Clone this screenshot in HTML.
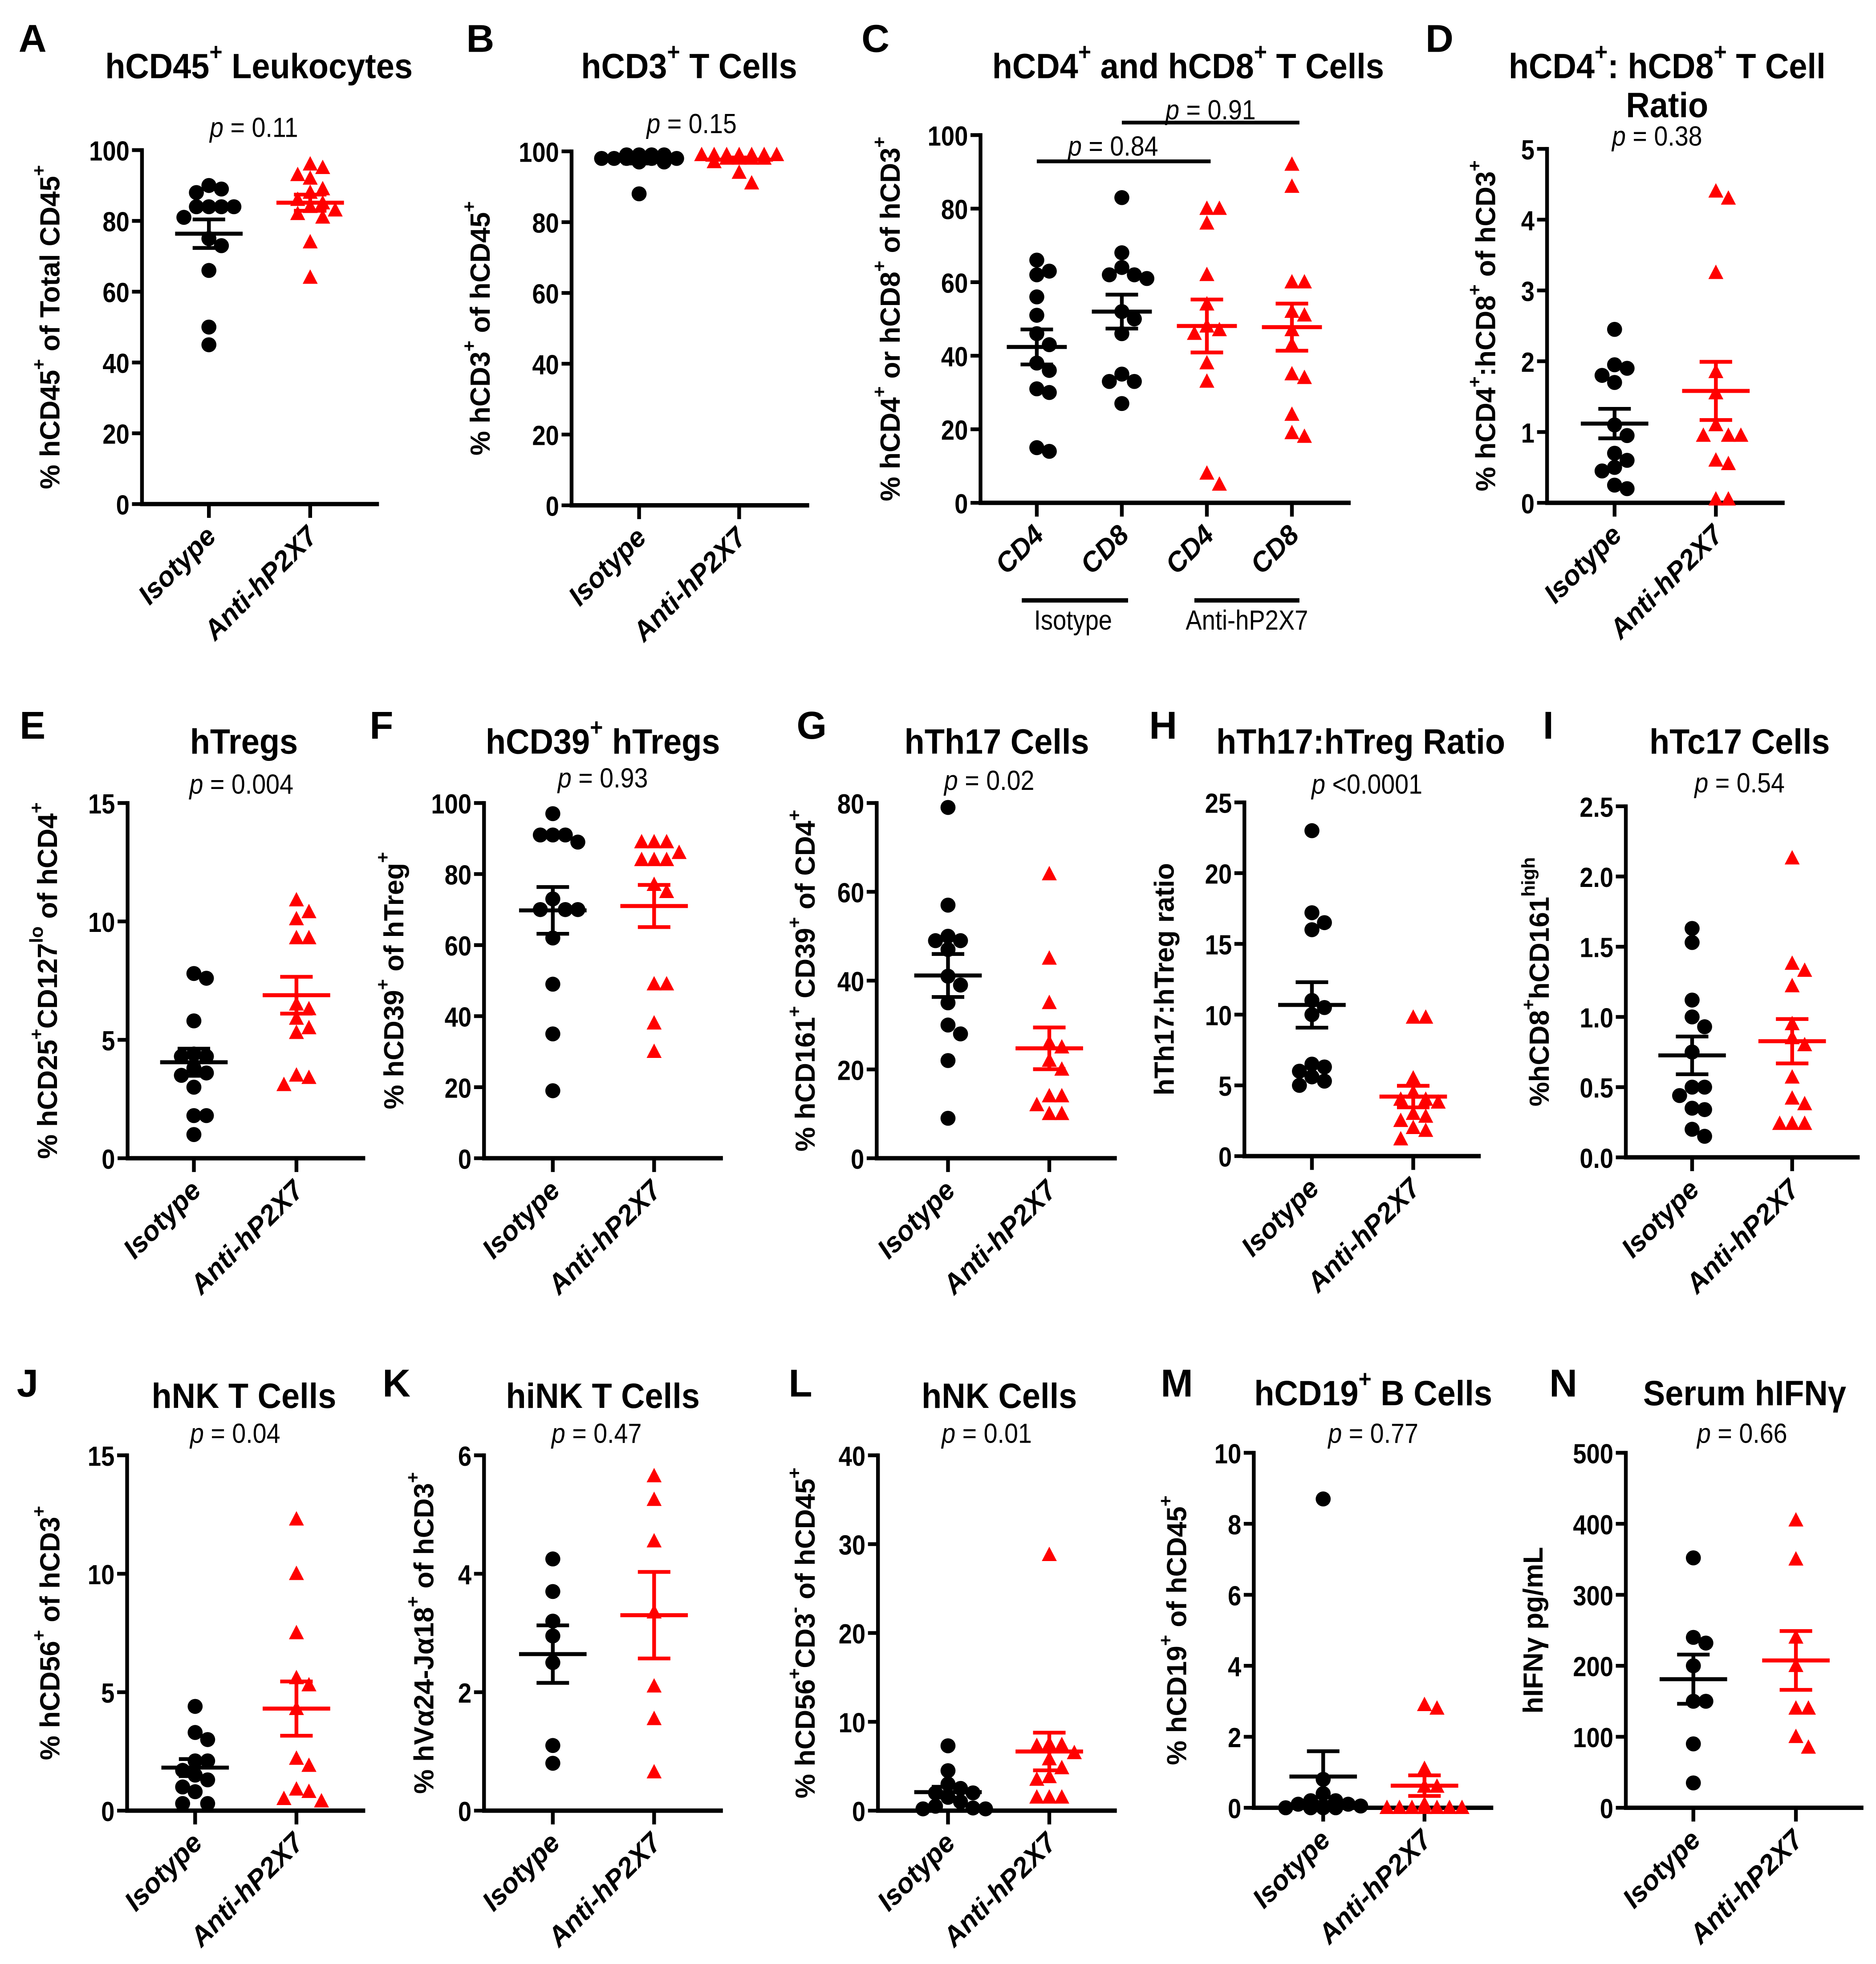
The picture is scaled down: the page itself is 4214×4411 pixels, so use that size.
<!DOCTYPE html>
<html><head><meta charset="utf-8"><style>
html,body{margin:0;padding:0;background:#fff;}
svg{display:block;}
</style></head><body>
<svg id="fig" xmlns="http://www.w3.org/2000/svg" width="4214" height="4411" viewBox="0 0 1500 1570.2"></svg>
<script>
// ---- data ----
const groupNames = ['Isotype','Anti-hP2X7'];
const isoA=[90,89,88,84,84,84,84,81,75,73,66,50,45];
const antiA=[96,95,93,92,89,88,86,85,84,83,82,81,74,64];
const isoB=[99,99,99,99,98,98,98,98,98,98,97,97,88];
const antiB=[99,99,99,99,99,99,99,98,98,98,98,97,94,91];
const isoCD4C=[66,63,62,56,51,46,43,38,36,31,30,15,14];
const isoCD8C=[83,68,64,62,62,61,52,50,46,35,33,33,27];
const antiCD4C=[80,80,76,62,54,48,47,46,38,33,8,5];
const antiCD8C=[92,86,60,60,52,51,47,43,35,34,24,19,18];
const isoD=[2.45,1.95,1.9,1.8,1.7,1.1,0.95,0.7,0.6,0.5,0.45,0.25,0.2];
const antiD=[4.4,4.3,3.25,1.85,1.55,1.1,0.95,0.95,0.95,0.6,0.55,0.05,0.05];
const isoE=[7.8,7.6,5.8,4.4,4.3,4.3,3.8,3.6,3.5,3.0,1.8,1.8,1.0];
const antiE=[10.9,10.4,10.1,9.3,9.3,6.5,6.3,5.9,5.5,5.3,3.5,3.4,3.1];
const isoF=[97,91,91,91,89,73,70,70,70,62,49,35,19];
const antiF=[89,89,89,86,84,84,84,77,75,49,49,38,30];
const isoG=[79,57,50,49,49,47,41,39,35,30,28,22,9];
const antiG=[64,45,35,26,25,22,20,14,14,12,10,10];
const isoH=[23,17.2,16.5,16.0,11.0,10.5,10.0,6.5,6.3,6.0,5.6,5.3,5.0];
const antiH=[9.8,9.8,5.5,4.5,4.0,4.0,3.8,3.0,2.8,2.5,2.0,1.8,1.2];
const isoI=[1.63,1.53,1.12,1.0,0.93,0.75,0.5,0.5,0.44,0.35,0.34,0.2,0.15];
const antiI=[2.13,1.38,1.33,1.22,0.95,0.85,0.8,0.57,0.42,0.38,0.24,0.24,0.24];
const isoJ=[4.4,3.3,3.0,2.1,2.1,1.7,1.5,1.3,1.0,0.8,0.3,0.3];
const antiJ=[12.3,10.0,7.5,5.6,5.3,4.3,2.2,1.9,0.9,0.8,0.5,0.4];
const isoK=[4.25,3.7,3.2,2.95,2.5,1.1,0.8];
const antiK=[5.65,5.25,4.55,3.35,2.1,1.55,0.65];
const isoL=[7.3,4.5,3,2.5,2,2,1.5,1,0.5,0.3,0.2,0.2];
const antiL=[28.8,7.5,7.4,7.3,6.5,5.8,4.8,3.8,3.5,1.5,1.5,1.5];
const isoM=[8.7,0.8,0.4,0.2,0.2,0.1,0.1,0.05,0,0,0,0];
const antiM=[2.9,2.8,1.1,0.6,0.6,0.1,0,0,0,0,0,0,0];
const isoN=[352,240,232,200,150,150,90,35];
const antiN=[405,350,240,200,140,140,100,85];
const ticks100=[0,20,40,60,80,100];
const ticksD=[0,1,2,3,4,5];
const ticks15=[0,5,10,15];
const ticksG=[0,20,40,60,80];
const ticksH=[0,5,10,15,20,25];
const ticksI=[0,0.5,1.0,1.5,2.0,2.5];
const ticksK=[0,2,4,6];
const ticksL=[0,10,20,30,40];
const ticksM=[0,2,4,6,8,10];
const ticksN=[0,100,200,300,400,500];
const pValues=['= 0.11','= 0.15','= 0.84','= 0.91','= 0.38','= 0.004','= 0.93','= 0.02','<0.0001','= 0.54','= 0.04','= 0.47','= 0.01','= 0.77','= 0.66'];

const RED='#ff0000', BLK='#000';
const NS='http://www.w3.org/2000/svg';
const svg=document.getElementById('fig');
const SANS='"Liberation Sans",sans-serif';

function mk(tag,attrs,parent){const e=document.createElementNS(NS,tag);for(const k in attrs)e.setAttribute(k,attrs[k]);(parent||svg).appendChild(e);return e;}
function rich(t,str,fs){
  const parts=str.split(/(\^\{[^}]*\}|\^\S)/).filter(s=>s.length);
  const sh=fs*0.42;
  let up=false;
  parts.forEach(p=>{
    const ts=document.createElementNS(NS,'tspan');
    if(p[0]==='^'){const s=p[1]==='{'?p.slice(2,-1):p.slice(1);ts.textContent=s;ts.setAttribute('font-size',(fs*0.68).toFixed(1));ts.setAttribute('dy',up?'0':(-sh).toFixed(1));up=true;}
    else{ts.textContent=p;if(up){ts.setAttribute('dy',sh.toFixed(1));up=false;}}
    t.appendChild(ts);
  });
}
function ctext(parent,x,y,sx,attrs){
  const a=Object.assign({x:0,y:0,transform:`translate(${x} ${y}) scale(${sx} 1)`},attrs);
  return mk('text',a,parent);
}

const panels=[
 {L:'A',lx:26,ly:31,ax:113.5,yT:120,yB:403,xE:303,max:100,ticks:ticks100,dec:0,title:['hCD45^+ Leukocytes'],tx:207,ty:53,p:[{t:pValues[0],x:203,y:102}],ylab:'% hCD45^+ of Total CD45^+',ylx:40,
  groups:[{v:isoA,x:167,c:BLK,s:'c',n:'isotype'},{v:antiA,x:248,c:RED,s:'t',n:'anti-hp2x7'}],xl:groupNames},
 {L:'B',lx:384,ly:31,ax:457,yT:121,yB:404,xE:647,max:100,ticks:ticks100,dec:0,title:['hCD3^+ T Cells'],tx:551,ty:53,p:[{t:pValues[1],x:553,y:99}],ylab:'% hCD3^+ of hCD45^+',ylx:384,
  groups:[{v:isoB,x:511,c:BLK,s:'c',n:'isotype'},{v:antiB,x:591,c:RED,s:'t',n:'anti-hp2x7'}],xl:groupNames},
 {L:'C',lx:700,ly:31,ax:784,yT:108,yB:402,xE:1080,max:100,ticks:ticks100,dec:0,title:['hCD4^+ and hCD8^+ T Cells'],tx:950,ty:53,
  p:[{t:pValues[2],x:890,y:117,bar:[829,968,129]},{t:pValues[3],x:968,y:88,bar:[897,1039,98]}],ylab:'% hCD4^+ or hCD8^+ of hCD3^+',ylx:712,
  groups:[{v:isoCD4C,x:829,c:BLK,s:'c',n:'isotype-cd4'},{v:isoCD8C,x:897,c:BLK,s:'c',n:'isotype-cd8'},{v:antiCD4C,x:965,c:RED,s:'t',n:'anti-cd4'},{v:antiCD8C,x:1033,c:RED,s:'t',n:'anti-cd8'}],
  xl:['CD4','CD8','CD4','CD8'],under:[{x1:817,x2:902,t:'Isotype',tx:858},{x1:955,x2:1039,t:'Anti-hP2X7',tx:997}]},
 {L:'D',lx:1151,ly:31,ax:1237,yT:119,yB:402,xE:1427,max:5,ticks:ticksD,dec:0,title:['hCD4^+: hCD8^+ T Cell','Ratio'],tx:1333,ty:53,p:[{t:pValues[4],x:1325,y:109}],ylab:'% hCD4^+:hCD8^+ of hCD3^+',ylx:1188,
  groups:[{v:isoD,x:1291,c:BLK,s:'c',n:'isotype'},{v:antiD,x:1372,c:RED,s:'t',n:'anti-hp2x7'}],xl:groupNames},
 {L:'E',lx:26,ly:580,ax:102,yT:642,yB:926,xE:292,max:15,ticks:ticks15,dec:0,title:['hTregs'],tx:195,ty:593,p:[{t:pValues[5],x:193,y:627}],ylab:'% hCD25^+CD127^{lo} of hCD4^+',ylx:38,
  groups:[{v:isoE,x:155,c:BLK,s:'c',n:'isotype'},{v:antiE,x:237,c:RED,s:'t',n:'anti-hp2x7'}],xl:groupNames},
 {L:'F',lx:305,ly:580,ax:387,yT:642,yB:926,xE:578,max:100,ticks:ticks100,dec:0,title:['hCD39^+ hTregs'],tx:482,ty:593,p:[{t:pValues[6],x:482,y:622}],ylab:'% hCD39^+ of hTreg^+',ylx:315,
  groups:[{v:isoF,x:442,c:BLK,s:'c',n:'isotype'},{v:antiF,x:523,c:RED,s:'t',n:'anti-hp2x7'}],xl:groupNames},
 {L:'G',lx:649,ly:580,ax:701,yT:642,yB:926,xE:893,max:80,ticks:ticksG,dec:0,title:['hTh17 Cells'],tx:797,ty:593,p:[{t:pValues[7],x:791,y:624}],ylab:'% hCD161^+ CD39^+ of CD4^+',ylx:644,
  groups:[{v:isoG,x:758,c:BLK,s:'c',n:'isotype'},{v:antiG,x:839,c:RED,s:'t',n:'anti-hp2x7'}],xl:groupNames},
 {L:'H',lx:930,ly:580,ax:995,yT:641.5,yB:924.3,xE:1184,max:25,ticks:ticksH,dec:0,title:['hTh17:hTreg Ratio'],tx:1088,ty:593,p:[{t:pValues[8],x:1093,y:627}],ylab:'hTh17:hTreg ratio',ylx:931,
  groups:[{v:isoH,x:1049,c:BLK,s:'c',n:'isotype'},{v:antiH,x:1130,c:RED,s:'t',n:'anti-hp2x7'}],xl:groupNames},
 {L:'I',lx:1238,ly:580,ax:1300,yT:644.6,yB:925.3,xE:1487,max:2.5,ticks:ticksI,dec:1,title:['hTc17 Cells'],tx:1391,ty:593,p:[{t:pValues[9],x:1391,y:626}],ylab:'%hCD8^+hCD161^{high}',ylx:1231,
  groups:[{v:isoI,x:1353,c:BLK,s:'c',n:'isotype'},{v:antiI,x:1433,c:RED,s:'t',n:'anti-hp2x7'}],xl:groupNames},
 {L:'J',lx:22,ly:1106,ax:101.6,yT:1163.5,yB:1447.6,xE:292,max:15,ticks:ticks15,dec:0,title:['hNK T Cells'],tx:195,ty:1116,p:[{t:pValues[10],x:188,y:1146}],ylab:'% hCD56^+ of hCD3^+',ylx:40,
  groups:[{v:isoJ,x:156,c:BLK,s:'c',n:'isotype'},{v:antiJ,x:237,c:RED,s:'t',n:'anti-hp2x7'}],xl:groupNames},
 {L:'K',lx:317,ly:1106,ax:387,yT:1163.5,yB:1447.6,xE:578,max:6,ticks:ticksK,dec:0,title:['hiNK T Cells'],tx:482,ty:1116,p:[{t:pValues[11],x:477,y:1146}],ylab:'% hV\u03b124-J\u03b118^+ of hCD3^+',ylx:339,
  groups:[{v:isoK,x:442,c:BLK,s:'c',n:'isotype'},{v:antiK,x:523,c:RED,s:'t',n:'anti-hp2x7'}],xl:groupNames},
 {L:'L',lx:640,ly:1106,ax:702,yT:1163.5,yB:1447.6,xE:893,max:40,ticks:ticksL,dec:0,title:['hNK Cells'],tx:799,ty:1116,p:[{t:pValues[12],x:789,y:1146}],ylab:'% hCD56^+CD3^- of hCD45^+',ylx:644,
  groups:[{v:isoL,x:758,c:BLK,s:'c',n:'isotype'},{v:antiL,x:839,c:RED,s:'t',n:'anti-hp2x7'}],xl:groupNames},
 {L:'M',lx:941,ly:1106,ax:1002.5,yT:1161.5,yB:1445.3,xE:1194,max:10,ticks:ticksM,dec:0,title:['hCD19^+ B Cells'],tx:1098,ty:1114,p:[{t:pValues[13],x:1098,y:1146}],ylab:'% hCD19^+ of hCD45^+',ylx:941,
  groups:[{v:isoM,x:1058,c:BLK,s:'c',n:'isotype'},{v:antiM,x:1139,c:RED,s:'t',n:'anti-hp2x7'}],xl:groupNames},
 {L:'N',lx:1250,ly:1106,ax:1300,yT:1161.5,yB:1445.3,xE:1490,max:500,ticks:ticksN,dec:0,title:['Serum hIFN\u03b3'],tx:1395,ty:1114,p:[{t:pValues[14],x:1393,y:1146}],ylab:'hIFN\u03b3 pg/mL',ylx:1226,
  groups:[{v:isoN,x:1354,c:BLK,s:'c',n:'isotype'},{v:antiN,x:1436,c:RED,s:'t',n:'anti-hp2x7'}],xl:groupNames}
];

function meanSem(v){const n=v.length;const m=v.reduce((a,b)=>a+b,0)/n;const sd=Math.sqrt(v.reduce((a,b)=>a+(b-m)*(b-m),0)/(n-1));return [m,sd/Math.sqrt(n)];}

panels.forEach(P=>{
  const g=mk('g',{});
  
  
  const yS=v=>P.yB-(v/P.max)*(P.yB-P.yT);
  const lt=mk('text',{x:P.lx,y:P.ly,'font-family':SANS,'font-weight':'bold','font-size':31,'text-anchor':'middle','dominant-baseline':'central'},g);
  lt.textContent=P.L;
  
  
  P.title.forEach((line,i)=>{
    const t=ctext(g,P.tx,P.ty+i*31,0.94,{'font-family':SANS,'font-weight':'bold','font-size':28,'text-anchor':'middle','dominant-baseline':'central'});
    rich(t,line,28);
    
    
  });
  P.p.forEach(pp=>{
    const t=ctext(g,pp.x,pp.y,0.9,{'font-family':SANS,'font-size':22,'text-anchor':'middle','dominant-baseline':'central'});
    const i=document.createElementNS(NS,'tspan');i.setAttribute('font-style','italic');i.textContent='p';t.appendChild(i);
    const r=document.createElementNS(NS,'tspan');r.textContent=' '+pp.t;t.appendChild(r);
    
    
    if(pp.bar){const b=mk('line',{x1:pp.bar[0],x2:pp.bar[1],y1:pp.bar[2],y2:pp.bar[2],stroke:'#000','stroke-width':3},g);
      
      }
  });
  const ya=mk('line',{x1:P.ax,x2:P.ax,y1:P.yT-1.5,y2:P.yB+1.5,stroke:'#000','stroke-width':3},g);
  
  
  const xa=mk('line',{x1:P.ax-1.5,x2:P.xE,y1:P.yB,y2:P.yB,stroke:'#000','stroke-width':3.5},g);
  
  
  P.ticks.forEach(tv=>{
    const y=yS(tv);
    const tl=mk('line',{x1:P.ax-8,x2:P.ax,y1:y,y2:y,stroke:'#000','stroke-width':3},g);
    
    
    const tt=ctext(g,P.ax-10,y+1,0.88,{'font-family':SANS,'font-weight':'bold','font-size':22,'text-anchor':'end','dominant-baseline':'central'});
    tt.textContent=tv.toFixed(P.dec);
    
    
  });
  const yl=mk('text',{x:P.ylx,y:(P.yT+P.yB)/2,'font-family':SANS,'font-weight':'bold','font-size':22,'text-anchor':'middle','dominant-baseline':'central',transform:`rotate(-90 ${P.ylx} ${(P.yT+P.yB)/2})`},g);
  rich(yl,P.ylab,22);
  
  
  P.groups.forEach((G,gi)=>{
    const xt=mk('line',{x1:G.x,x2:G.x,y1:P.yB,y2:P.yB+11,stroke:'#000','stroke-width':3},g);
    
    
    const lx=G.x+7, ly=P.yB+27;
    const xlab=mk('text',{x:lx,y:ly,'font-family':SANS,'font-weight':'bold','font-style':'italic','font-size':22,'text-anchor':'end',transform:`rotate(-45 ${lx} ${ly})`},g);
    xlab.textContent=P.xl[gi];
    
    
    const placed=[];
    const sorted=G.v.slice().sort((a,b)=>b-a);
    const step=10, maxK=6, minD=10;
    sorted.forEach(v=>{
      const y=yS(v);let best=G.x,bestD=-1;
      for(let k=0;k<=maxK;k++){
        const off=(k===0?0:(k%2?1:-1)*Math.ceil(k/2))*step;
        const cx=G.x+off;
        const d=placed.length?Math.min(...placed.map(p=>Math.hypot(p[0]-cx,p[1]-y))):1e9;
        if(d>=minD){best=cx;bestD=d;break;}
        if(d>bestD){bestD=d;best=cx;}
      }
      const x=best;
      placed.push([x,y]);
      let m;
      if(G.s==='c'){m=mk('circle',{cx:x,cy:y,r:6,fill:G.c},g);}
      else{m=mk('polygon',{points:`${x},${y-6.5} ${x+6},${y+5} ${x-6},${y+5}`,fill:G.c},g);}
      
      
    });
    const [mu,se]=meanSem(G.v);
    const mw=P.groups.length>2?24:27, cw=13;
    const ml=mk('line',{x1:G.x-mw,x2:G.x+mw,y1:yS(mu),y2:yS(mu),stroke:G.c,'stroke-width':3.2},g);
    
    
    const eb=mk('path',{d:`M${G.x},${yS(mu-se)}V${yS(mu+se)}M${G.x-cw},${yS(mu+se)}H${G.x+cw}M${G.x-cw},${yS(mu-se)}H${G.x+cw}`,stroke:G.c,'stroke-width':3,fill:'none'},g);
    
    
  });
  if(P.under){P.under.forEach(u=>{
    const l=mk('line',{x1:u.x1,x2:u.x2,y1:480,y2:480,stroke:'#000','stroke-width':3.5},g);
    
    
    const t=ctext(g,u.tx,496,0.88,{'font-family':SANS,'font-size':22,'text-anchor':'middle','dominant-baseline':'central'});
    t.textContent=u.t;
    
    
  });}
});
</script>
</body></html>
